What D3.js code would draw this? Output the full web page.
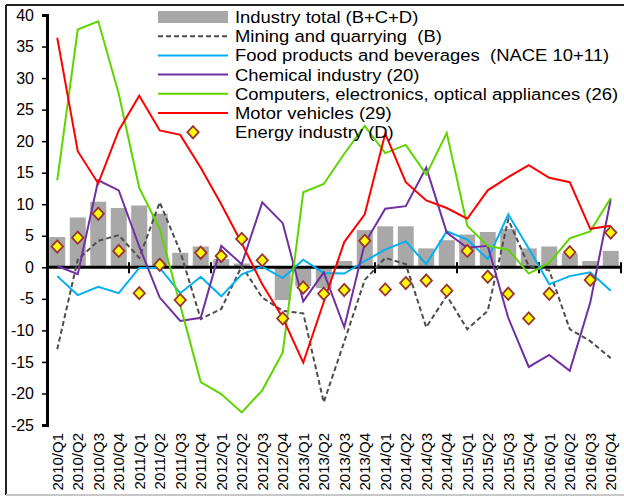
<!DOCTYPE html>
<html>
<head>
<meta charset="utf-8">
<script src="https://cdn.jsdelivr.net/npm/d3@7"></script>
<style>
  html, body { margin: 0; padding: 0; background: #fff; }
  svg { display: block; font-family: "Liberation Sans", Arial, sans-serif; }
  text { white-space: pre; }
</style>
</head>
<body>
<svg id="chart" width="624" height="497"></svg>
<script>
// ---- data ----
const categories = [
  "2010/Q1","2010/Q2","2010/Q3","2010/Q4",
  "2011/Q1","2011/Q2","2011/Q3","2011/Q4",
  "2012/Q1","2012/Q2","2012/Q3","2012/Q4",
  "2013/Q1","2013/Q2","2013/Q3","2013/Q4",
  "2014/Q1","2014/Q2","2014/Q3","2014/Q4",
  "2015/Q1","2015/Q2","2015/Q3","2015/Q4",
  "2016/Q1","2016/Q2","2016/Q3","2016/Q4"
];
const industryTotal = [4.8, 7.9, 10.4, 9.4, 9.8, 8.5, 2.3, 3.3, 1.3, 0.6, 0.2, -5.2, -3.0, -3.3, 1.0, 5.9, 6.5, 6.5, 3.0, 4.3, 5.2, 5.6, 6.1, 3.0, 3.3, 2.2, 1.0, 2.6];
const mining = [-13.0, 1.2, 4.2, 5.1, 1.5, 10.3, 2.5, -8.2, -6.6, 0.2, -4.8, -6.9, -7.3, -21.4, -11.8, -2.0, 1.5, 0.5, -9.5, -4.5, -9.8, -6.9, 7.6, 0.2, -0.5, -9.8, -11.7, -14.4];
const food = [-1.4, -4.4, -3.1, -4.1, -0.1, -0.1, -4.1, -1.5, -4.6, -1.1, 0.1, -1.7, 1.2, -0.9, -1.0, 1.0, 2.8, 4.1, 0.5, 5.7, 4.4, 1.3, 8.4, 3.0, -2.7, -1.4, -0.8, -3.7];
const chemical = [0.2, -1.1, 13.8, 12.2, 3.3, -4.8, -8.5, -8.0, 3.4, 0.5, 10.3, 7.0, -5.4, -0.8, -9.5, 3.8, 9.3, 9.7, 15.8, 5.5, 3.1, 3.4, -8.0, -15.8, -13.9, -16.4, -5.6, 10.8];
const computers = [13.8, 37.7, 39.0, 27.5, 12.6, 6.1, -6.0, -18.2, -20.1, -23.0, -19.5, -13.5, 11.9, 13.2, 18.0, 22.4, 18.1, 19.4, 14.7, 21.3, 6.6, 3.4, 2.8, -1.0, 0.7, 4.6, 5.7, 11.0];
const motor = [36.4, 18.4, 13.3, 21.7, 27.2, 21.7, 21.0, 15.8, 10.0, 3.8, -2.7, -8.0, -15.1, -5.5, 4.0, 8.4, 21.2, 13.5, 10.6, 9.4, 7.7, 12.2, 14.3, 16.2, 14.2, 13.5, 6.1, 6.6];
const energy = [3.3, 4.7, 8.5, 2.6, -4.1, 0.4, -5.2, 2.3, 1.8, 4.5, 1.1, -8.1, -3.2, -4.2, -3.6, 4.2, -3.5, -2.5, -2.1, -3.7, 2.6, -1.5, -4.2, -8.1, -4.2, 2.4, -2.0, 5.5];
const yTicks = [40, 35, 30, 25, 20, 15, 10, 5, 0, -5, -10, -15, -20, -25];
const legendLabels = [
  "Industry total (B+C+D)",
  "Mining and quarrying  (B)",
  "Food products and beverages  (NACE 10+11)",
  "Chemical industry (20)",
  "Computers, electronics, optical appliances (26)",
  "Motor vehicles (29)",
  "Energy industry (D)"
];

// ---- layout ----
const svg = d3.select("#chart");
const pL = 47, pR = 621, pT = 15, pB = 425;

// frame
svg.append("line").attr("x1", 6).attr("x2", 624).attr("y1", 5).attr("y2", 5).attr("stroke", "#222").attr("stroke-width", 2);
svg.append("line").attr("x1", 6).attr("x2", 6).attr("y1", 5).attr("y2", 495).attr("stroke", "#222").attr("stroke-width", 2);
svg.append("line").attr("x1", 6).attr("x2", 624).attr("y1", 495).attr("y2", 495).attr("stroke", "#c8c8c8").attr("stroke-width", 2);

const x = d3.scaleBand().domain(categories).range([pL, pR]).paddingInner(0.22).paddingOuter(0.11);
const y = d3.scaleLinear().domain([-25, 40]).range([pB, pT]);
const cx = c => x(c) + x.bandwidth() / 2;

// bars
svg.append("g").selectAll("rect").data(industryTotal).join("rect")
  .attr("x", (d, i) => x(categories[i]))
  .attr("width", x.bandwidth())
  .attr("y", d => y(Math.max(0, d)))
  .attr("height", d => Math.abs(y(d) - y(0)))
  .attr("fill", "#a8a8a8");

// y axis
const yAxis = svg.append("g").attr("transform", `translate(${pL},0)`)
  .call(d3.axisLeft(y).tickValues(yTicks).tickSize(5).tickPadding(8).tickFormat(d => String(d)));
yAxis.select(".domain").attr("stroke", "#000").attr("stroke-width", 3);
yAxis.selectAll(".tick line").attr("stroke", "#000").attr("stroke-width", 1.5);
yAxis.selectAll(".tick text").attr("font-size", 16).attr("fill", "#000").attr("font-family", "Liberation Sans, Arial, sans-serif");

// x labels (bottom axis at plot bottom)
const xAxis = svg.append("g").attr("transform", `translate(0,${pB})`)
  .call(d3.axisBottom(x).tickSize(0).tickPadding(0));
xAxis.select(".domain").remove();
xAxis.selectAll(".tick text")
  .attr("font-size", 15).attr("fill", "#000").attr("font-family", "Liberation Sans, Arial, sans-serif")
  .attr("transform", "translate(0,8) rotate(-90)")
  .attr("text-anchor", "end").attr("dy", "0.35em").attr("y", 0).attr("x", 0);

// zero line with year ticks
const step = x.step(), gap = step - x.bandwidth();
svg.append("line").attr("x1", pL).attr("x2", pR).attr("y1", y(0)).attr("y2", y(0)).attr("stroke", "#000").attr("stroke-width", 3);
const tickIdx = d3.range(4, 29, 4);
const bx = i => i < categories.length ? x(categories[i]) - gap / 2 : x(categories[i - 1]) + x.bandwidth() + gap / 2;
svg.append("g").selectAll("line").data(tickIdx).join("line")
  .attr("x1", bx).attr("x2", bx)
  .attr("y1", y(0) - 5).attr("y2", y(0) + 6)
  .attr("stroke", "#000").attr("stroke-width", 2);

// lines
const lineGen = d3.line().x((d, i) => cx(categories[i])).y(d => y(d));
const series = [
  { data: mining, color: "#4d4d4d", dash: "5,3" },
  { data: food, color: "#00b0f0", dash: null },
  { data: chemical, color: "#7030a0", dash: null },
  { data: computers, color: "#5ed400", dash: null },
  { data: motor, color: "#ff0000", dash: null }
];
series.forEach(s => {
  svg.append("path").datum(s.data).attr("d", lineGen)
    .attr("fill", "none").attr("stroke", s.color).attr("stroke-width", 2)
    .attr("stroke-dasharray", s.dash);
});

// diamonds (square-ish rhombus)
const rhombus = {
  draw(ctx, size) {
    const w = Math.sqrt(size / 2), h = w * 1.08;
    ctx.moveTo(0, -h); ctx.lineTo(w, 0); ctx.lineTo(0, h); ctx.lineTo(-w, 0); ctx.closePath();
  }
};
const diamond = d3.symbol().type(rhombus).size(64);
svg.append("g").selectAll("path").data(energy).join("path")
  .attr("d", diamond)
  .attr("transform", (d, i) => `translate(${cx(categories[i])},${y(d)})`)
  .attr("fill", "#ffff00").attr("stroke", "#993333").attr("stroke-width", 1.8);

// legend
const lg = svg.append("g");
const lx0 = 158, lx1 = 228, ly0 = 17, ldy = 19.2;
legendLabels.forEach((t, i) => {
  const ly = ly0 + i * ldy;
  if (i === 0) {
    lg.append("rect").attr("x", lx0).attr("y", ly - 6).attr("width", lx1 - lx0).attr("height", 12).attr("fill", "#a8a8a8");
  } else if (i < 6) {
    const s = series[i - 1];
    lg.append("line").attr("x1", lx0).attr("x2", lx1).attr("y1", ly).attr("y2", ly)
      .attr("stroke", s.color).attr("stroke-width", 2).attr("stroke-dasharray", s.dash);
  } else {
    lg.append("path").attr("d", diamond).attr("transform", `translate(${(lx0 + lx1) / 2},${ly})`)
      .attr("fill", "#ffff00").attr("stroke", "#993333").attr("stroke-width", 1.8);
  }
  lg.append("text").attr("transform", `translate(235,${ly}) scale(1.085,1)`).attr("dy", "0.35em")
    .attr("font-size", 17).attr("fill", "#000").text(t);
});
</script>
</body>
</html>
